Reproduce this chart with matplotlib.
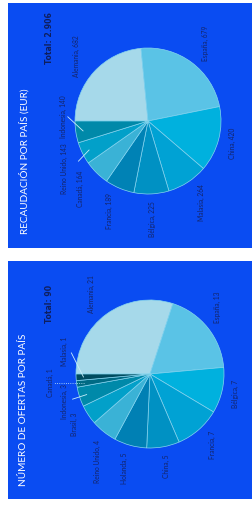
import numpy as np
import matplotlib
matplotlib.use("Agg")
import matplotlib.pyplot as plt

plt.rcParams['font.family'] = ['Lato', 'DejaVu Sans']

# recaudacion por pais (EUR)
rec_paises = ["Alemania", "España", "China", "Malasia", "Bélgica", "Francia",
              "Canadá", "Reino Unido", "Indonesia"]
rec_valores = [682, 679, 420, 264, 225, 189, 164, 143, 140]
rec_total = "Total: 2.906"

# numero de ofertas por pais
of_paises = ["Alemania", "España", "Bélgica", "Francia", "China", "Holanda",
             "Reino Unido", "Brasil", "Indonesia", "Canadá", "Malasia"]
of_valores = [21, 13, 7, 7, 5, 5, 4, 3, 3, 1, 1]
of_total = "Total: 90"

BG = '#0a4cf2'
EDGE = '#86d6ee'
LABEL = '#14256a'
rec_colores = ['#a6d9ea', '#5ac3e6', '#00b1de', '#00a2d4', '#0091c3', '#0082b5',
               '#3ab2d6', '#02a0c9', '#0089a9']
of_colores = ['#a6d9ea', '#5ac3e6', '#00b1de', '#00a2d4', '#0091c3', '#0080b4',
              '#3ab2d6', '#02a0c9', '#0089a9', '#006a84', '#004b5f']

W, H = 252, 508
fig = plt.figure(figsize=(W / 100, H / 100), dpi=100)
fig.patch.set_facecolor('white')


def panel(x0, y0, x1, y1):
    ax = fig.add_axes([x0 / W, 1 - y1 / H, (x1 - x0) / W, (y1 - y0) / H])
    ax.set_facecolor(BG)
    for s in ax.spines.values():
        s.set_visible(False)
    return ax, x1 - x0, y1 - y0


def tarta(ax, w, h, paises, valores, colores, centro, radio, titulo, total,
          pos_titulo, pos_total, angulos_extra, dist_extra, guias, punteadas):
    ax.pie(valores, colors=colores, startangle=180, counterclock=False,
           radius=radio, center=centro, frame=True,
           wedgeprops=dict(edgecolor=EDGE, linewidth=0.5))
    ax.set_xlim(0, w)
    ax.set_ylim(0, h)
    ax.set_aspect('auto')
    ax.set_xticks([])
    ax.set_yticks([])

    ax.text(pos_titulo[0], pos_titulo[1], titulo, rotation=90, ha='center',
            va='center', color='white', fontsize=7.2)
    ax.text(pos_total[0], pos_total[1], total, rotation=90, ha='center',
            va='center', color='#0f1f5e', fontsize=5.6, fontweight='bold',
            family='DejaVu Sans')

    tot = float(sum(valores))
    cum = np.cumsum([0] + list(valores))
    textos = []
    for i, (p, v) in enumerate(zip(paises, valores)):
        mid = 180 - (cum[i] + v / 2) / tot * 360
        ang = angulos_extra.get(p, mid)
        t = ax.text(0, 0, f"{p}, {v}", rotation=90, ha='center', va='center',
                    color=LABEL, fontsize=4.8)
        textos.append((t, mid, ang, p))

    fig.canvas.draw()
    rend = fig.canvas.get_renderer()
    for t, mid, ang, p in textos:
        bb = t.get_window_extent(rend)
        c, s = np.cos(np.radians(ang)), np.sin(np.radians(ang))
        d = radio * 1.1 + abs(s) * bb.height / 2 + abs(c) * bb.width / 2
        d += dist_extra.get(p, 0)
        t.set_position((centro[0] + d * c, centro[1] + d * s))
        if p in guias:
            cm, sm = np.cos(np.radians(mid)), np.sin(np.radians(mid))
            x0, y0 = centro[0] + 0.9 * radio * cm, centro[1] + 0.9 * radio * sm
            x1, y1 = centro[0] + 1.1 * radio * c, centro[1] + 1.1 * radio * s
            if p in punteadas:
                x1, y1 = centro[0] + (d - 4) * c, y0
            ax.plot([x0, x1], [y0, y1], color='#c8eefa', lw=0.6,
                    ls=':' if p in punteadas else '-')


ax1, w1, h1 = panel(8, 3, 252, 248)
tarta(ax1, w1, h1, rec_paises, rec_valores, rec_colores, (140, 127), 73,
      "RECAUDACIÓN POR PAÍS (EUR)", rec_total, (16, 87), (41, 210),
      {"Indonesia": 177, "Reino Unido": -150}, {},
      ["Indonesia", "Reino Unido"], [])

ax2, w2, h2 = panel(8, 261, 252, 499)
tarta(ax2, w2, h2, of_paises, of_valores, of_colores, (142, 125), 74,
      "NÚMERO DE OFERTAS POR PAÍS", of_total, (16, 89), (41, 195),
      {"Malasia": 165, "Canadá": -175, "España": 45, "Reino Unido": -121},
      {"Canadá": 14},
      ["Malasia", "Canadá", "Indonesia"], ["Canadá"])

fig.savefig("out.png", dpi=100, facecolor='white')
